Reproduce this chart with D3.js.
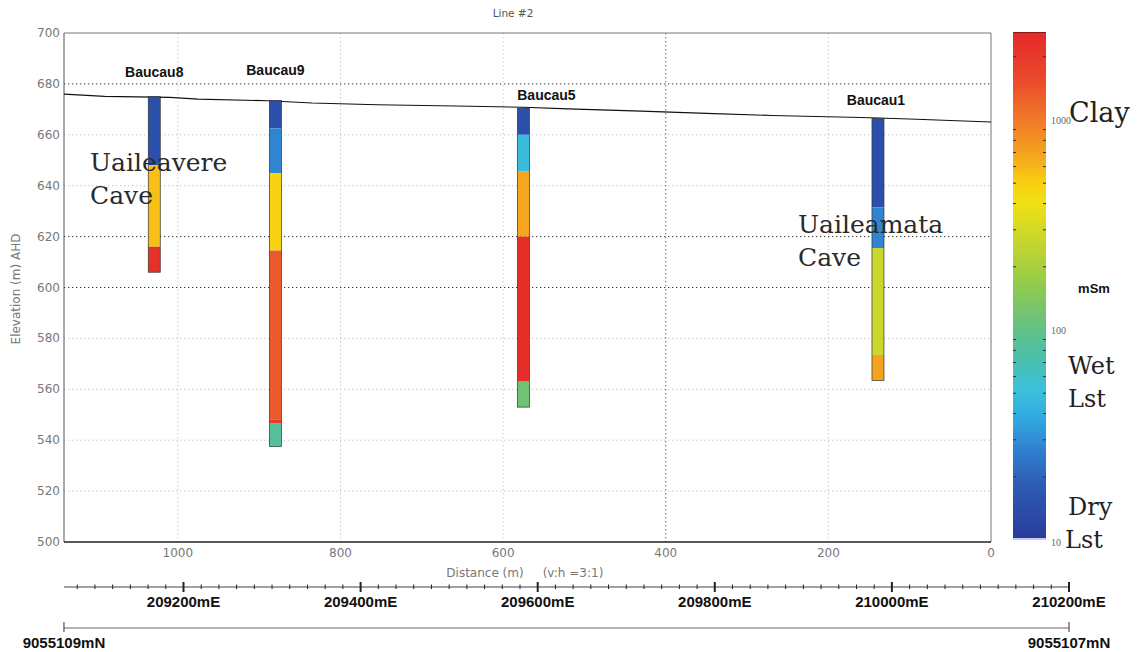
<!DOCTYPE html>
<html><head><meta charset="utf-8">
<script src="https://cdn.jsdelivr.net/npm/d3@7"></script>
<style>body{margin:0;background:#fff}svg{display:block}</style>
</head><body>
<svg id="c" width="1143" height="652"></svg>
<script>
// ---------- data ----------
const chartTitle = "Line #2";
const elevTicks = [500,520,540,560,580,600,620,640,660,680,700];
const distTicks = [1000,800,600,400,200,0];
const eastMajor = [209200,209400,209600,209800,210000,210200];
const eastLabels = ["209200mE","209400mE","209600mE","209800mE","210000mE","210200mE"];
const northEast = [209065,210200];
const northLabels = ["9055109mN","9055107mN"];
const groundDist = [1140,1090,1010,975,890,835,755,640,575,520,430,350,270,160,100,0];
const groundElev = [676.0,675.1,674.7,674.0,673.4,672.5,671.8,671.2,670.8,670.2,669.3,668.4,667.6,666.8,666.2,665.0];
const boreNames = ["Baucau8","Baucau9","Baucau5","Baucau1"];
const boreDist = [1029,880,575,139];
const b8Bounds = [675,648,616,606];
const b8Cond = [15,560,2300];
const b9Bounds = [673.5,662.5,645,614.5,548,546.5,537.5];
const b9Cond = [15,28,480,1350,1900,85];
const b5Bounds = [670.5,660,645.5,620,563,553];
const b5Cond = [15,49,680,2400,118];
const b1Bounds = [666.5,631.5,615.5,573.5,563.5];
const b1Cond = [15,28,270,700];
const caveNames = [["Uaileavere","Cave"],["Uaileamata","Cave"]];
const colorStopValues = [10,10.6,17.3,26.8,37.3,51.8,80,112,173,268,400,500,680,1000,1550,2625];
const colorStopColors = ["#2a3c9c","#2a3e9e","#2c58b0","#3080d0","#30a8e0","#3cc0dc","#50c0a0","#6cc27a","#98cc48","#c8d62c","#f0e014","#f8d010","#f5a51e","#f07a28","#ea4a2c","#e52828"];
const cbLabelValues = [1000,100,10];
const cbLabelText = ["1000","100","10"];
const cbUnit = "mSm";
const cbClasses = [["Clay"],["Wet","Lst"],["Dry","Lst"]];
const xTitle = "Distance (m)";
const xRatio = "(v:h =3:1)";
const yTitle = "Elevation (m) AHD";

// ---------- layout ----------
const P = {x0:64, x1:991, y0:33, y1:542};
const boreholes = [
  {name:boreNames[0], dist:boreDist[0], bounds:b8Bounds, cond:b8Cond, ldx:0,  ldy:-20},
  {name:boreNames[1], dist:boreDist[1], bounds:b9Bounds, cond:b9Cond, ldx:0,  ldy:-25},
  {name:boreNames[2], dist:boreDist[2], bounds:b5Bounds, cond:b5Cond, ldx:23, ldy:-8},
  {name:boreNames[3], dist:boreDist[3], bounds:b1Bounds, cond:b1Cond, ldx:-2, ldy:-13}
];

const svg = d3.select("#c");
const x = d3.scaleLinear().domain([1140,0]).range([P.x0,P.x1]);
const y = d3.scaleLinear().domain([500,700]).range([P.y1,P.y0]);
const color = d3.scaleLinear().domain(colorStopValues.map(Math.log10)).range(colorStopColors).interpolate(d3.interpolateRgb).clamp(true);
const cond2col = v => color(Math.log10(v));

const sans = "'DejaVu Sans', sans-serif";
const arial = "'Liberation Sans', Arial, sans-serif";
const serif = "'DejaVu Serif', serif";
const tserif = "'Liberation Serif', serif";

// title
svg.append("text").attr("x",513).attr("y",17).attr("text-anchor","middle")
  .attr("font-family",sans).attr("font-size",10.5).attr("fill","#555").text(chartTitle);

// grid
const strongY = [680,620,600];
const strongX = [400];
svg.append("g").selectAll("line").data(elevTicks.filter(v=>v>500&&v<700)).join("line")
  .attr("x1",P.x0).attr("x2",P.x1).attr("y1",d=>y(d)).attr("y2",d=>y(d))
  .attr("stroke",d=>strongY.includes(d)?"#333":"#c4c4c4")
  .attr("stroke-width",1).attr("stroke-dasharray","1.3,2.7");
svg.append("g").selectAll("line").data(distTicks.filter(v=>v>0)).join("line")
  .attr("x1",d=>x(d)).attr("x2",d=>x(d)).attr("y1",P.y0).attr("y2",P.y1)
  .attr("stroke",d=>strongX.includes(d)?"#555":"#c4c4c4")
  .attr("stroke-width",1).attr("stroke-dasharray","1.3,2.7");

// frame
svg.append("line").attr("x1",P.x0).attr("x2",P.x1).attr("y1",P.y0).attr("y2",P.y0).attr("stroke","#777");
svg.append("line").attr("x1",P.x1).attr("x2",P.x1).attr("y1",P.y0).attr("y2",P.y1).attr("stroke","#777");
svg.append("line").attr("x1",P.x0).attr("x2",P.x0).attr("y1",P.y0).attr("y2",P.y1).attr("stroke","#555");
svg.append("line").attr("x1",P.x0).attr("x2",P.x1).attr("y1",P.y1).attr("y2",P.y1).attr("stroke","#222").attr("stroke-width",1.5);

// y tick labels
svg.append("g").selectAll("text").data(elevTicks).join("text")
  .attr("x",P.x0-4).attr("y",d=>y(d)+4).attr("text-anchor","end")
  .attr("font-family",sans).attr("font-size",12).attr("fill","#777").text(d=>d);
// x tick labels
svg.append("g").selectAll("text").data(distTicks).join("text")
  .attr("x",d=>x(d)).attr("y",P.y1+15).attr("text-anchor","middle")
  .attr("font-family",sans).attr("font-size",12).attr("fill","#777").text(d=>d);
// axis titles
svg.append("text").attr("x",485).attr("y",577).attr("text-anchor","middle")
  .attr("font-family",sans).attr("font-size",12).attr("fill","#777").text(xTitle);
svg.append("text").attr("x",573).attr("y",577).attr("text-anchor","middle")
  .attr("font-family",sans).attr("font-size",12).attr("fill","#777").text(xRatio);
svg.append("text").attr("transform","translate(20,289) rotate(-90)").attr("text-anchor","middle")
  .attr("font-family",sans).attr("font-size",12).attr("fill","#777").text(yTitle);

// ground line
const gpts = groundDist.map((d,i)=>[d,groundElev[i]]);
svg.append("path").attr("d",d3.line().x(d=>x(d[0])).y(d=>y(d[1]))(gpts))
  .attr("fill","none").attr("stroke","#111").attr("stroke-width",1.1);

// boreholes
const BW = 12;
boreholes.forEach(b=>{
  const g = svg.append("g");
  const segs = b.cond.map((c,i)=>({top:b.bounds[i], bot:b.bounds[i+1], c}));
  g.selectAll("rect").data(segs).join("rect")
    .attr("x",x(b.dist)-BW/2).attr("width",BW)
    .attr("y",d=>y(d.top)).attr("height",d=>y(d.bot)-y(d.top))
    .attr("fill",d=>cond2col(d.c));
  g.append("rect").attr("x",x(b.dist)-BW/2).attr("width",BW)
    .attr("y",y(b.bounds[0])).attr("height",y(b.bounds[b.bounds.length-1])-y(b.bounds[0]))
    .attr("fill","none").attr("stroke","#333").attr("stroke-width",0.7);
  svg.append("text").attr("x",x(b.dist)+b.ldx).attr("y",y(b.bounds[0])+b.ldy)
    .attr("text-anchor","middle").attr("font-family",arial).attr("font-weight","bold")
    .attr("font-size",14).attr("fill","#111").text(b.name);
});

// cave text
const caveAnchor = [{x:90,y:171},{x:798,y:233}];
caveNames.forEach((lines,i)=>{
  lines.forEach((t,j)=>{
    svg.append("text").attr("x",caveAnchor[i].x).attr("y",caveAnchor[i].y+j*33)
      .attr("font-family",serif).attr("font-size",25).attr("fill","#2a2a2a").text(t);
  });
});

// colorbar
const CB = {x:1013, w:33, top:32, bot:540};
const cb = d3.scaleLog().domain([10,1000]).range([CB.bot,120]);
const defs = svg.append("defs");
const grad = defs.append("linearGradient").attr("id","cbg").attr("x1",0).attr("x2",0).attr("y1",1).attr("y2",0);
d3.range(0,101).forEach(i=>{
  const py = CB.bot - (CB.bot-CB.top)*i/100;
  grad.append("stop").attr("offset",i+"%").attr("stop-color",cond2col(cb.invert(py)));
});
svg.append("rect").attr("x",CB.x).attr("y",CB.top).attr("width",CB.w).attr("height",CB.bot-CB.top).attr("fill","url(#cbg)");
svg.append("line").attr("x1",CB.x).attr("x2",CB.x+CB.w).attr("y1",CB.top+0.5).attr("y2",CB.top+0.5).attr("stroke","#8a1a1a");
svg.append("rect").attr("x",CB.x).attr("y",CB.bot-2).attr("width",CB.w).attr("height",2).attr("fill","#c8c8e8");
const minor = [20,30,40,50,60,70,80,90,200,300,400,500,600,700,800,900,2000];
[CB.x, CB.x+CB.w].forEach((xx,k)=>{
  svg.append("g").selectAll("line").data(minor).join("line")
    .attr("x1",xx).attr("x2",k===0?xx+3:xx-3).attr("y1",d=>cb(d)).attr("y2",d=>cb(d))
    .attr("stroke","#333").attr("stroke-width",1);
});
svg.append("g").selectAll("text").data(cbLabelValues).join("text")
  .attr("x",1051).attr("y",(d,i)=>cb(d)+(i===2?6:4)).attr("font-family",tserif).attr("font-size",10)
  .attr("fill","#666").text((d,i)=>cbLabelText[i]);
svg.append("text").attr("x",1069).attr("y",122).attr("font-family",serif).attr("font-size",27).attr("fill","#222").text(cbClasses[0][0]);
svg.append("text").attr("x",1068).attr("y",374).attr("font-family",serif).attr("font-size",24).attr("fill","#222").text(cbClasses[1][0]);
svg.append("text").attr("x",1068).attr("y",407).attr("font-family",serif).attr("font-size",24).attr("fill","#222").text(cbClasses[1][1]);
svg.append("text").attr("x",1068).attr("y",515).attr("font-family",serif).attr("font-size",24).attr("fill","#222").text(cbClasses[2][0]);
svg.append("text").attr("x",1065).attr("y",548).attr("font-family",serif).attr("font-size",24).attr("fill","#222").text(cbClasses[2][1]);
svg.append("text").attr("x",1094).attr("y",293).attr("text-anchor","middle").attr("font-family",arial)
  .attr("font-weight","bold").attr("font-size",13).attr("fill","#111").text(cbUnit);

// easting axis
const e = d3.scaleLinear().domain([209200,210200]).range([183.5,1069]);
const EY = 587;
svg.append("line").attr("x1",e(northEast[0])).attr("x2",e(northEast[1])).attr("y1",EY).attr("y2",EY).attr("stroke","#444");
svg.append("g").selectAll("line").data(d3.range(209080,210201,20)).join("line")
  .attr("x1",d=>e(d)).attr("x2",d=>e(d))
  .attr("y1",d=>eastMajor.includes(d)?EY-5:EY-2.5).attr("y2",d=>eastMajor.includes(d)?EY+5:EY+2)
  .attr("stroke","#222").attr("stroke-width",d=>eastMajor.includes(d)?2:1);
svg.append("g").selectAll("text").data(eastMajor).join("text")
  .attr("x",d=>e(d)).attr("y",607).attr("text-anchor","middle").attr("font-family",arial)
  .attr("font-weight","bold").attr("font-size",15).attr("fill","#111").text((d,i)=>eastLabels[i]);

// northing line
const NY = 628;
svg.append("line").attr("x1",e(northEast[0])).attr("x2",e(northEast[1])).attr("y1",NY).attr("y2",NY).attr("stroke","#666");
svg.append("g").selectAll("line").data(northEast).join("line")
  .attr("x1",d=>e(d)).attr("x2",d=>e(d)).attr("y1",NY-6).attr("y2",NY+4).attr("stroke","#333");
svg.append("g").selectAll("text").data(northEast).join("text")
  .attr("x",d=>e(d)).attr("y",648).attr("text-anchor","middle").attr("font-family",arial)
  .attr("font-weight","bold").attr("font-size",15).attr("fill","#111").text((d,i)=>northLabels[i]);
</script>
</body></html>
